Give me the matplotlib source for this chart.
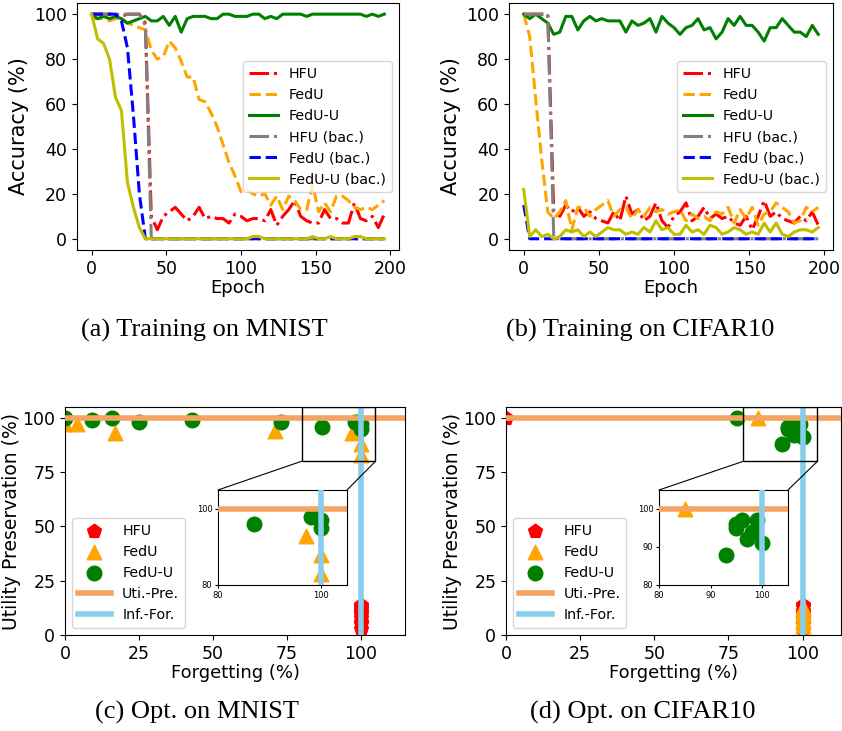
import numpy as np
import matplotlib.pyplot as plt
from matplotlib.patches import Rectangle, ConnectionPatch

# epochs shared by the training curves
epochs = np.arange(0, 200, 4)

# (a) MNIST training curves
mnist_hfu = [100, 100, 100, 100, 100, 99, 100, 100, 100, 96, 10, 4, 10, 12, 14, 11, 8, 10, 14, 9,
             10, 9, 9, 7, 11, 10, 8, 9, 9, 8, 13, 6, 10, 13, 17, 10, 8, 7, 7, 13,
             9, 9, 7, 7, 16, 9, 8, 10, 5, 11]
mnist_fedu = [98, 98, 98, 97, 98, 98, 96, 95, 94, 93, 84, 80, 81, 88, 85, 79, 72, 72, 62, 61,
              56, 50, 42, 34, 28, 21, 22, 20, 19, 20, 15, 19, 13, 19, 17, 13, 13, 24, 12, 16,
              12, 19, 19, 17, 14, 13, 14, 13, 15, 17]
mnist_fedu_u = [100, 98, 99, 98, 99, 98, 96, 97, 98, 99, 97, 97, 99, 95, 99, 92, 98, 99, 99, 99,
                98, 98, 100, 100, 99, 99, 99, 100, 100, 98, 99, 98, 100, 100, 100, 100, 99, 100, 100, 100,
                100, 100, 100, 100, 100, 100, 99, 100, 99, 100]
mnist_hfu_bac = [100, 100, 100, 100, 100, 100, 100, 100, 100, 95] + [0] * 40
mnist_fedu_bac = [100, 100, 100, 100, 100, 97, 85, 55, 20, 0] + [0] * 40
mnist_fedu_u_bac = [100, 89, 87, 80, 63, 57, 25, 14, 5, 0, 0, 0, 0, 0, 0, 0, 0, 0, 0, 0,
                    0, 0, 0, 0, 0, 0, 0, 1, 1, 0, 0, 0, 0, 0, 0, 0, 0, 1, 0, 0,
                    1, 0, 0, 0, 1, 1, 0, 0, 0, 0]

# (b) CIFAR10 training curves
cifar_hfu = [100, 100, 100, 100, 100, 12, 10, 15, 12, 14, 10, 12, 9, 8, 7, 12, 8, 19, 11, 13,
             8, 10, 16, 8, 5, 10, 12, 16, 8, 10, 14, 9, 11, 9, 10, 7, 6, 10, 4, 10,
             17, 10, 12, 9, 8, 7, 10, 8, 12, 6]
cifar_fedu = [100, 90, 62, 35, 12, 9, 12, 17, 4, 14, 14, 10, 13, 15, 17, 10, 13, 14, 9, 13,
              10, 14, 12, 13, 11, 12, 13, 8, 11, 9, 10, 8, 12, 11, 14, 7, 13, 9, 14, 6,
              11, 12, 16, 14, 12, 7, 8, 14, 12, 14]
cifar_fedu_u = [100, 98, 100, 98, 96, 91, 92, 99, 99, 93, 97, 99, 97, 98, 97, 97, 97, 92, 97, 95,
                96, 98, 92, 99, 96, 94, 91, 94, 95, 98, 93, 94, 89, 92, 98, 95, 99, 95, 95, 92,
                88, 94, 94, 98, 95, 92, 92, 90, 95, 91]
cifar_hfu_bac = [100, 100, 100, 100, 100, 0] + [0] * 44
cifar_fedu_bac = [15] + [0] * 49
cifar_fedu_u_bac = [22, 1, 4, 1, 2, 0, 1, 4, 3, 4, 1, 3, 1, 3, 5, 4, 4, 2, 3, 2,
                    5, 3, 8, 4, 5, 2, 2, 6, 3, 4, 2, 6, 5, 2, 3, 5, 4, 2, 3, 2,
                    7, 3, 7, 2, 1, 3, 4, 4, 3, 5]

# (c) MNIST optimisation points (forgetting, utility)
mnist_hfu_x = [100] * 10
mnist_hfu_y = [3, 5, 6, 8, 9, 10, 11, 12, 13, 14]
mnist_fedu_x = [0, 4, 17, 71, 97, 100, 100]
mnist_fedu_y = [97, 97, 93, 94, 93, 88, 83]
mnist_fedu_u_x = [0, 9, 16, 25, 43, 73, 87, 98, 99, 100, 100]
mnist_fedu_u_y = [100, 99, 100, 98, 99, 98, 96, 98, 98, 97, 95]

# (d) CIFAR10 optimisation points
cifar_hfu_x = [0] + [100] * 9
cifar_hfu_y = [100, 3, 5, 6, 8, 9, 10, 11, 13, 14]
cifar_fedu_x = [85] + [100] * 7
cifar_fedu_y = [100, 4, 6, 7, 9, 10, 12, 13]
cifar_fedu_u_x = [78, 93, 95, 96, 95, 97, 98, 99, 100]
cifar_fedu_u_y = [100, 88, 95, 97, 96, 92, 94, 97, 91]

line_names = ['HFU', 'FedU', 'FedU-U', 'HFU (bac.)', 'FedU (bac.)', 'FedU-U (bac.)']
line_colors = ['r', 'orange', 'g', 'gray', 'b', 'y']
line_styles = ['-.', '--', '-', '-.', '--', '-']

fig = plt.figure(figsize=(8.42, 7.31), dpi=100)


def training_panel(rect, series):
    ax = fig.add_axes(rect)
    for y, name, c, ls in zip(series, line_names, line_colors, line_styles):
        ax.plot(epochs, y, ls, color=c, lw=2.2, label=name)
    ax.set_ylim(-5, 105)
    ax.set_xticks([0, 50, 100, 150, 200])
    ax.set_yticks([0, 20, 40, 60, 80, 100])
    ax.tick_params(labelsize=12.5)
    ax.set_xlabel('Epoch', fontsize=13, labelpad=1)
    ax.set_ylabel('Accuracy (%)', fontsize=15, labelpad=4)
    ax.legend(loc='center right', fontsize=10.3)
    return ax


def opt_panel(rect, inset_rect, pts, xmax, inset_ticks):
    ax = fig.add_axes(rect)
    axins = fig.add_axes(inset_rect)
    for a in (ax, axins):
        a.scatter(pts[0], pts[1], marker='p', s=110, color='red', label='HFU', zorder=2)
        a.scatter(pts[2], pts[3], marker='^', s=110, color='orange', label='FedU', zorder=2)
        a.scatter(pts[4], pts[5], marker='o', s=110, color='green', label='FedU-U', zorder=2)
        a.axhline(100, color='#F4A460', lw=4, label='Uti.-Pre.', zorder=3)
        a.axvline(100, color='skyblue', lw=4, label='Inf.-For.', zorder=3)
    ax.set_xlim(0, xmax)
    ax.set_ylim(0, 105)
    ax.set_xticks([0, 25, 50, 75, 100])
    ax.set_yticks([0, 25, 50, 75, 100])
    ax.tick_params(labelsize=12.5)
    ax.set_xlabel('Forgetting (%)', fontsize=13, labelpad=1)
    ax.set_ylabel('Utility Preservation (%)', fontsize=13.5, labelpad=1)
    ax.legend(loc='lower left', fontsize=10.3, scatterpoints=1, handlelength=2.3)

    axins.set_xlim(80, 105)
    axins.set_ylim(80, 105)
    axins.set_xticks(inset_ticks)
    axins.set_yticks(inset_ticks)
    axins.tick_params(labelsize=6, length=2.5, pad=1.5)

    ax.add_patch(Rectangle((80, 80), 25, 25, fill=False, ec='black', lw=1, zorder=4))
    for xa, xb in [((0, 1), (80, 80)), ((1, 1), (105, 80))]:
        con = ConnectionPatch(xyA=xa, coordsA=axins.transAxes, xyB=xb, coordsB=ax.transData,
                              color='black', lw=0.8)
        fig.add_artist(con)
    return ax


training_panel([0.0914, 0.658, 0.3824, 0.338],
               [mnist_hfu, mnist_fedu, mnist_fedu_u, mnist_hfu_bac, mnist_fedu_bac, mnist_fedu_u_bac])
training_panel([0.6045, 0.658, 0.3848, 0.338],
               [cifar_hfu, cifar_fedu, cifar_fedu_u, cifar_hfu_bac, cifar_fedu_bac, cifar_fedu_u_bac])

opt_panel([0.0772, 0.1313, 0.4038, 0.3119], [218 / 842, 1 - 585 / 731, 129 / 842, 95 / 731],
          [mnist_hfu_x, mnist_hfu_y, mnist_fedu_x, mnist_fedu_y, mnist_fedu_u_x, mnist_fedu_u_y],
          115, [80, 100])
opt_panel([0.601, 0.1313, 0.398, 0.3119], [659 / 842, 1 - 585 / 731, 129 / 842, 95 / 731],
          [cifar_hfu_x, cifar_hfu_y, cifar_fedu_x, cifar_fedu_y, cifar_fedu_u_x, cifar_fedu_u_y],
          113, [80, 90, 100])

# sub-figure captions
cap = dict(fontsize=19, family='Liberation Serif', ha='center', va='center')
fig.text(204 / 842, 1 - 330 / 731, '(a) Training on MNIST', **cap)
fig.text(640 / 842, 1 - 330 / 731, '(b) Training on CIFAR10', **cap)
fig.text(197 / 842, 1 - 712 / 731, '(c) Opt. on MNIST', **cap)
fig.text(643 / 842, 1 - 712 / 731, '(d) Opt. on CIFAR10', **cap)

plt.savefig('out.png', dpi=100)
